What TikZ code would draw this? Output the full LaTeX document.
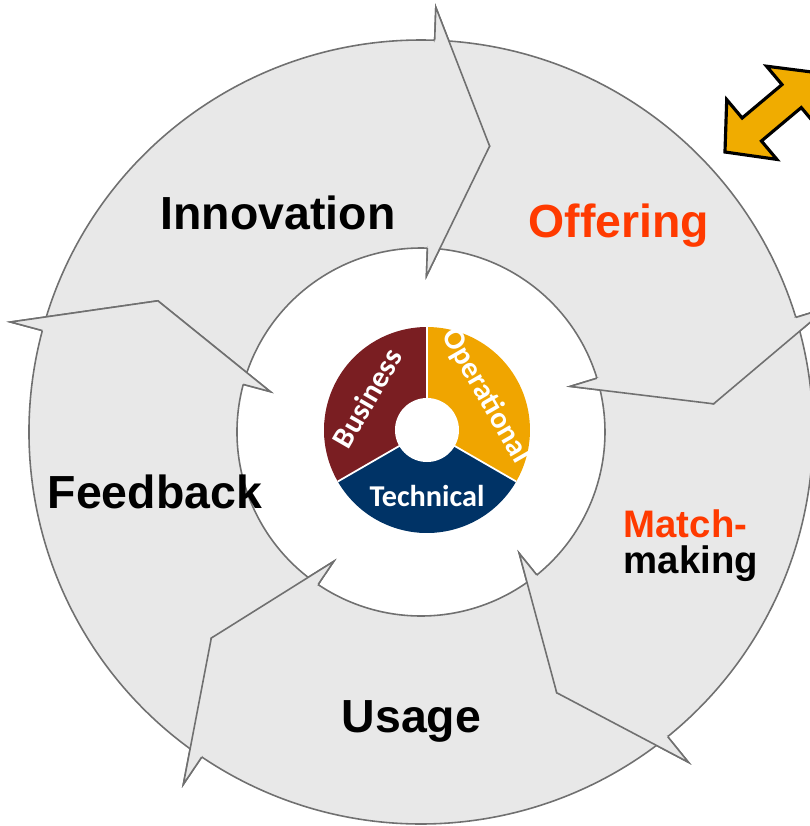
\documentclass[tikz,border=0pt]{standalone}
\usepackage{fontspec}
\setmainfont{Liberation Sans}
\newfontfamily\piefont{Carlito}
\definecolor{segfill}{RGB}{232,232,232}
\definecolor{segline}{RGB}{112,112,112}
\definecolor{offerred}{RGB}{255,58,0}
\definecolor{bizred}{RGB}{122,30,34}
\definecolor{opsorange}{RGB}{240,165,0}
\definecolor{technavy}{RGB}{0,51,102}
\definecolor{linkorange}{RGB}{240,172,0}
\tikzset{
  seg/.style={fill=segfill, draw=segline, line width=0.45pt, line join=miter},
  phase/.style={font=\bfseries\fontsize{13.2}{15}\selectfont, inner sep=0pt, anchor=base west},
  sector/.style={font=\piefont\bfseries\fontsize{8.6}{9}\selectfont, text=white, inner sep=0pt},
}
\begin{document}
\begin{tikzpicture}[x=0.01cm, y=0.01cm]
	\useasboundingbox (-421,-394) rectangle (389,432);
	\clip (-421,-394) rectangle (389,432);
	% ring of five arrow segments, tail/head angles clockwise
	\foreach \t/\h in {165/88, 88/17, 17/-51, -51/-124, -124/-195}{
		\draw[seg] (\t:392) arc[start angle=\t, end angle=\h, radius=392]
			-- (\h:425) -- ({\h-11.5}:294) -- (\h:156) -- (\h:184)
			arc[start angle=\h, end angle=\t, radius=184]
			-- ({\t-11.5}:294) -- cycle;
	}
	% heads again on top, so they lie over the next tail
	\foreach \h in {88, 17, -51, -124, -195}{
		\fill[segfill] (\h:425) -- ({\h-11.5}:294) -- (\h:156) -- cycle;
		\draw[seg, fill=none] (\h:392) -- (\h:425) -- ({\h-11.5}:294) -- (\h:156) -- (\h:184);
	}
	% phase labels
	\node[phase] (innov) at (-261,203) {Innovation};
	\node[phase, text=offerred] (offer) at (107,195) {Offering};
	\node[phase, font=\bfseries\fontsize{10.9}{13}\selectfont, text=offerred] (match) at (202,-105) {Match-};
	\node[phase, font=\bfseries\fontsize{10.9}{13}\selectfont] (making) at (202,-141) {making};
	\node[phase] (usage) at (-80,-300) {Usage};
	\node[phase] (feedback) at (-374,-76) {Feedback};
	% three-part wheel in the middle
	\begin{scope}[shift={(6,2)}]
		\fill[opsorange] (0,0) -- (90:103) arc[start angle=90, end angle=-30, radius=103] -- cycle;
		\fill[technavy] (0,0) -- (-30:103) arc[start angle=-30, end angle=-150, radius=103] -- cycle;
		\fill[bizred] (0,0) -- (210:103) arc[start angle=210, end angle=90, radius=103] -- cycle;
		\foreach \a in {90,-30,210}{ \draw[white, line width=0.5pt] (0,0) -- (\a:103); }
		\fill[white] (0,0) circle (32);
		\node[sector, rotate=60] (biz) at (152:68) {Business};
		\node[sector, rotate=-60] (ops) at (30:68) {Operational};
		\node[sector] (tech) at (0,-66) {Technical};
	\end{scope}
	% two-way link, top right
	\begin{scope}[shift={(304,280)}, rotate=40]
		\filldraw[fill=linkorange, draw=black, line width=0.9pt, line join=miter]
			(0,0) -- (35,39) -- (35,15) -- (87,15) -- (87,39) -- (123,0)
			-- (87,-39) -- (87,-15) -- (35,-15) -- (35,-39) -- cycle;
	\end{scope}
\end{tikzpicture}
\end{document}
